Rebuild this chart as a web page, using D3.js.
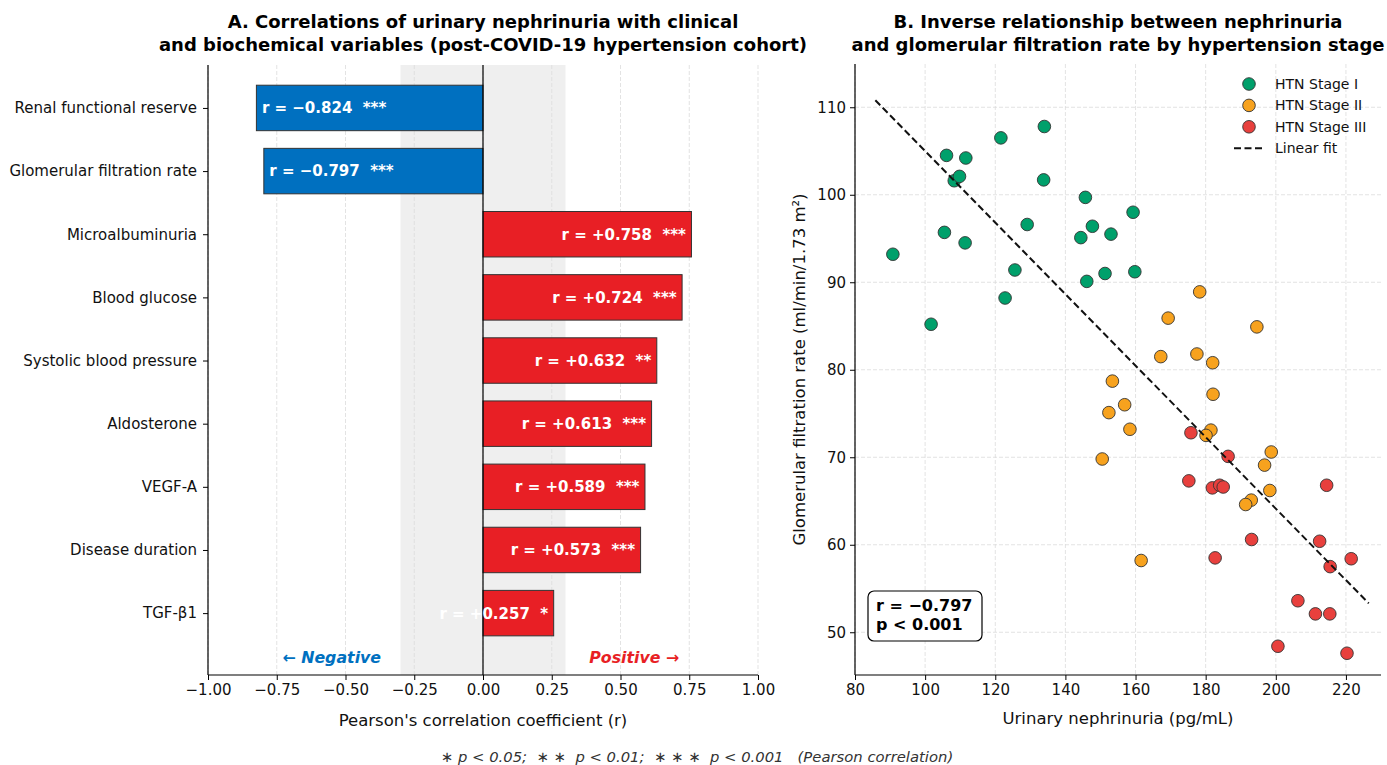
<!DOCTYPE html>
<html>
<head>
<meta charset="utf-8">
<script src="https://cdn.jsdelivr.net/npm/d3@7"></script>
<style>
  body { margin: 0; background: #fff; }
  svg { display: block; font-family: "DejaVu Sans", sans-serif; }
  text { white-space: pre; }
</style>
</head>
<body>
<div id="chart"></div>
<script>
// panel A data
const variables = [
  "Renal functional reserve", "Glomerular filtration rate", "Microalbuminuria",
  "Blood glucose", "Systolic blood pressure", "Aldosterone", "VEGF-A",
  "Disease duration", "TGF-β1"
];
const rValues = [-0.824, -0.797, 0.758, 0.724, 0.632, 0.613, 0.589, 0.573, 0.257];
const signif = ["***", "***", "***", "***", "**", "***", "***", "***", "*"];
const rTicks = [-1, -0.75, -0.5, -0.25, 0, 0.25, 0.5, 0.75, 1];

// panel B data: [nephrinuria pg/mL, GFR]
const stage1 = [
  [90.8, 93.2], [101.7, 85.2], [105.5, 95.7], [106.1, 104.5], [108.3, 101.6],
  [109.8, 102.1], [111.6, 104.2], [111.4, 94.5], [121.6, 106.5], [122.8, 88.2],
  [125.6, 91.4], [129.1, 96.6], [134.0, 107.8], [133.8, 101.7], [144.4, 95.1],
  [145.7, 99.7], [146.1, 90.1], [147.7, 96.4], [151.3, 91.0], [153.0, 95.5],
  [159.3, 98.0], [159.8, 91.2]
];
const stage2 = [
  [178.3, 88.9], [169.3, 85.9], [194.6, 84.9], [167.2, 81.5], [177.5, 81.8],
  [182.0, 80.8], [153.4, 78.7], [182.1, 77.2], [156.9, 76.0], [152.4, 75.1],
  [158.4, 73.2], [181.5, 73.1], [180.1, 72.5], [198.7, 70.6], [196.8, 69.1],
  [150.5, 69.8], [198.3, 66.2], [193.0, 65.1], [191.4, 64.6], [161.6, 58.2]
];
const stage3 = [
  [175.8, 72.8], [186.4, 70.1], [175.2, 67.3], [181.9, 66.5], [184.0, 66.8],
  [185.0, 66.6], [214.5, 66.8], [182.7, 58.5], [193.1, 60.6], [212.5, 60.4],
  [221.5, 58.4], [215.5, 57.5], [206.3, 53.6], [211.3, 52.1], [215.4, 52.1],
  [200.6, 48.4], [220.3, 47.6]
];
const stageNames = ["HTN Stage I", "HTN Stage II", "HTN Stage III"];
const xTicksB = [80, 100, 120, 140, 160, 180, 200, 220];
const yTicksB = [50, 60, 70, 80, 90, 100, 110];
// fitted line: GFR = intercept + slope * nephrinuria
const fitSlope = -0.4086;
const fitIntercept = 145.85;

const W = 1387, H = 765;
const BLUE = "#0070c0", RED = "#e81f25";
const stageColors = ["#00a06b", "#f7a21e", "#e8403d"];
const GRID = "#dcdcdc";
const TICK_FS = 15, LABEL_FS = 16.5, TITLE_FS = 18;

const svg = d3.select("#chart").append("svg")
  .attr("width", W).attr("height", H);

// ---------- panel A ----------
const A = { left: 208, right: 758, top: 65, bottom: 675 };
const xA = d3.scaleLinear().domain([-1, 1]).range([A.left, A.right]);
const yA = d3.scaleLinear().domain([-0.68, 8.98]).range([A.top, A.bottom]);
const barH = 0.72 * (yA(1) - yA(0));

const gA = svg.append("g");

// non-significant band
gA.append("rect")
  .attr("x", xA(-0.3)).attr("y", A.top)
  .attr("width", xA(0.3) - xA(-0.3)).attr("height", A.bottom - A.top)
  .attr("fill", "#efefef");

// vertical grid
gA.selectAll("line.grid").data(rTicks).join("line")
  .attr("class", "grid")
  .attr("x1", xA).attr("x2", xA)
  .attr("y1", A.top).attr("y2", A.bottom)
  .attr("stroke", GRID).attr("stroke-width", 0.8)
  .attr("stroke-dasharray", "4,2");

// bars
gA.selectAll("rect.bar").data(rValues).join("rect")
  .attr("class", "bar")
  .attr("x", (d) => xA(Math.min(0, d)))
  .attr("y", (d, i) => yA(i) - barH / 2)
  .attr("width", (d) => Math.abs(xA(d) - xA(0)))
  .attr("height", barH)
  .attr("fill", (d) => (d < 0 ? BLUE : RED))
  .attr("stroke", "#333").attr("stroke-width", 1);

// zero line
gA.append("line")
  .attr("x1", xA(0)).attr("x2", xA(0))
  .attr("y1", A.top).attr("y2", A.bottom)
  .attr("stroke", "#000").attr("stroke-width", 1.2);

// bar labels
const fmtR = (d) => "r = " + (d < 0 ? "\u2212" : "+") + Math.abs(d).toFixed(3);
gA.selectAll("text.blabel").data(rValues).join("text")
  .attr("class", "blabel")
  .attr("x", (d) => (d < 0 ? xA(d + 0.02) : xA(d - 0.02)))
  .attr("y", (d, i) => yA(i))
  .attr("dy", "0.36em")
  .attr("text-anchor", (d) => (d < 0 ? "start" : "end"))
  .attr("fill", "#fff").attr("font-weight", "bold").attr("font-size", 15)
  .text((d, i) => fmtR(d) + "  " + signif[i]);

// direction labels
gA.append("text")
  .attr("x", xA(-0.55)).attr("y", yA(8.7)).attr("dy", "0.36em")
  .attr("text-anchor", "middle").attr("fill", BLUE)
  .attr("font-weight", "bold").attr("font-style", "italic").attr("font-size", 15.8)
  .text("\u2190 Negative");
gA.append("text")
  .attr("x", xA(0.55)).attr("y", yA(8.7)).attr("dy", "0.36em")
  .attr("text-anchor", "middle").attr("fill", RED)
  .attr("font-weight", "bold").attr("font-style", "italic").attr("font-size", 15.8)
  .text("Positive \u2192");

// axes
const axA = gA.append("g")
  .attr("transform", `translate(0,${A.bottom})`)
  .call(d3.axisBottom(xA).tickValues(rTicks).tickSize(5).tickPadding(4)
    .tickFormat((d) => d3.format(".2f")(d).replace("-", "\u2212")));
const axAy = gA.append("g")
  .attr("transform", `translate(${A.left},0)`)
  .call(d3.axisLeft(yA).tickValues(d3.range(variables.length)).tickSize(5).tickPadding(6)
    .tickFormat((i) => variables[i]));
[axA, axAy].forEach((ax) => {
  ax.select(".domain").remove();
  ax.selectAll("text").attr("font-size", TICK_FS).attr("fill", "#111")
    .attr("font-family", "DejaVu Sans");
  ax.selectAll(".tick line").attr("stroke", "#000");
});
gA.append("line").attr("x1", A.left).attr("x2", A.right)
  .attr("y1", A.bottom).attr("y2", A.bottom).attr("stroke", "#000").attr("stroke-width", 1.2);
gA.append("line").attr("x1", A.left).attr("x2", A.left)
  .attr("y1", A.top).attr("y2", A.bottom).attr("stroke", "#000").attr("stroke-width", 1.2);

gA.append("text")
  .attr("x", (A.left + A.right) / 2).attr("y", 726)
  .attr("text-anchor", "middle").attr("font-size", LABEL_FS).attr("fill", "#111")
  .text("Pearson's correlation coefficient (r)");

const titleA = gA.append("text")
  .attr("text-anchor", "middle").attr("font-weight", "bold").attr("font-size", TITLE_FS);
titleA.append("tspan").attr("x", (A.left + A.right) / 2).attr("y", 28)
  .text("A. Correlations of urinary nephrinuria with clinical");
titleA.append("tspan").attr("x", (A.left + A.right) / 2).attr("y", 51)
  .text("and biochemical variables (post-COVID-19 hypertension cohort)");

// ---------- panel B ----------
const B = { left: 855, right: 1381, top: 64, bottom: 675 };
const xB = d3.scaleLinear().domain([80, 230]).range([B.left, B.right]);
const yB = d3.scaleLinear().domain([45, 115]).range([676, 63.5]);

const gB = svg.append("g");

gB.selectAll("line.gx").data(xTicksB).join("line")
  .attr("class", "gx")
  .attr("x1", xB).attr("x2", xB).attr("y1", B.top).attr("y2", B.bottom)
  .attr("stroke", GRID).attr("stroke-width", 0.8).attr("stroke-dasharray", "4,2");
gB.selectAll("line.gy").data(yTicksB).join("line")
  .attr("class", "gy")
  .attr("x1", B.left).attr("x2", B.right).attr("y1", yB).attr("y2", yB)
  .attr("stroke", GRID).attr("stroke-width", 0.8).attr("stroke-dasharray", "4,2");

// linear fit spans the data range +/- 5
const allPts = stage1.concat(stage2, stage3);
const fx = [d3.min(allPts, (d) => d[0]) - 5, d3.max(allPts, (d) => d[0]) + 5];

[stage1, stage2, stage3].forEach((pts, s) => {
  gB.append("g").selectAll("circle").data(pts).join("circle")
    .attr("cx", (d) => xB(d[0])).attr("cy", (d) => yB(d[1]))
    .attr("r", 6.3)
    .attr("fill", stageColors[s])
    .attr("stroke", "#333").attr("stroke-width", 0.9);
});

gB.append("line")
  .attr("x1", xB(fx[0])).attr("y1", yB(fitIntercept + fitSlope * fx[0]))
  .attr("x2", xB(fx[1])).attr("y2", yB(fitIntercept + fitSlope * fx[1]))
  .attr("stroke", "#111").attr("stroke-width", 2)
  .attr("stroke-dasharray", "7,3.5");

// axes
const axB = gB.append("g").attr("transform", `translate(0,${B.bottom})`)
  .call(d3.axisBottom(xB).tickValues(xTicksB).tickSize(5).tickPadding(4));
const axBy = gB.append("g").attr("transform", `translate(${B.left},0)`)
  .call(d3.axisLeft(yB).tickValues(yTicksB).tickSize(5).tickPadding(4));
[axB, axBy].forEach((ax) => {
  ax.select(".domain").remove();
  ax.selectAll("text").attr("font-size", TICK_FS).attr("fill", "#111")
    .attr("font-family", "DejaVu Sans");
  ax.selectAll(".tick line").attr("stroke", "#000");
});
gB.append("line").attr("x1", B.left).attr("x2", B.right)
  .attr("y1", B.bottom).attr("y2", B.bottom).attr("stroke", "#000").attr("stroke-width", 1.2);
gB.append("line").attr("x1", B.left).attr("x2", B.left)
  .attr("y1", B.top).attr("y2", B.bottom).attr("stroke", "#000").attr("stroke-width", 1.2);

gB.append("text")
  .attr("x", (B.left + B.right) / 2).attr("y", 724)
  .attr("text-anchor", "middle").attr("font-size", LABEL_FS).attr("fill", "#111")
  .text("Urinary nephrinuria (pg/mL)");
gB.append("text")
  .attr("transform", `translate(805,${(B.top + B.bottom) / 2}) rotate(-90)`)
  .attr("text-anchor", "middle").attr("font-size", LABEL_FS).attr("fill", "#111")
  .text("Glomerular filtration rate (ml/min/1.73 m²)");

const titleB = gB.append("text")
  .attr("text-anchor", "middle").attr("font-weight", "bold").attr("font-size", TITLE_FS);
titleB.append("tspan").attr("x", 1118).attr("y", 28)
  .text("B. Inverse relationship between nephrinuria");
titleB.append("tspan").attr("x", 1118).attr("y", 51)
  .text("and glomerular filtration rate by hypertension stage");

// legend
const legend = gB.append("g").attr("transform", "translate(1249,84)");
const legendItems = stageNames.concat(["Linear fit"]);
const li = legend.selectAll("g").data(legendItems).join("g")
  .attr("transform", (d, i) => `translate(0,${i * 21.4})`);
li.filter((d, i) => i < 3).append("circle")
  .attr("r", 6.3).attr("fill", (d, i) => stageColors[i])
  .attr("stroke", "#333").attr("stroke-width", 0.9);
li.filter((d, i) => i === 3).append("line")
  .attr("x1", -15).attr("x2", 14)
  .attr("stroke", "#111").attr("stroke-width", 2).attr("stroke-dasharray", "7,3.5");
li.append("text").attr("x", 26).attr("dy", "0.36em")
  .attr("font-size", 14).attr("fill", "#111").text((d) => d);

// stats box
const box = gB.append("g");
box.append("rect")
  .attr("x", 868).attr("y", 591).attr("width", 114).attr("height", 50)
  .attr("rx", 6).attr("fill", "#fff").attr("stroke", "#000").attr("stroke-width", 1.2);
box.append("text").attr("x", 876).attr("y", 611)
  .attr("font-weight", "bold").attr("font-size", 16).text("r = \u22120.797");
box.append("text").attr("x", 876).attr("y", 630)
  .attr("font-weight", "bold").attr("font-size", 16).text("p < 0.001");

// footnote
svg.append("text")
  .attr("x", 697).attr("y", 762)
  .attr("text-anchor", "middle").attr("font-style", "italic")
  .attr("font-size", 14.8).attr("fill", "#333")
  .text("\u2217 p < 0.05;  \u2217 \u2217  p < 0.01;  \u2217 \u2217 \u2217  p < 0.001   (Pearson correlation)");
</script>
</body>
</html>
